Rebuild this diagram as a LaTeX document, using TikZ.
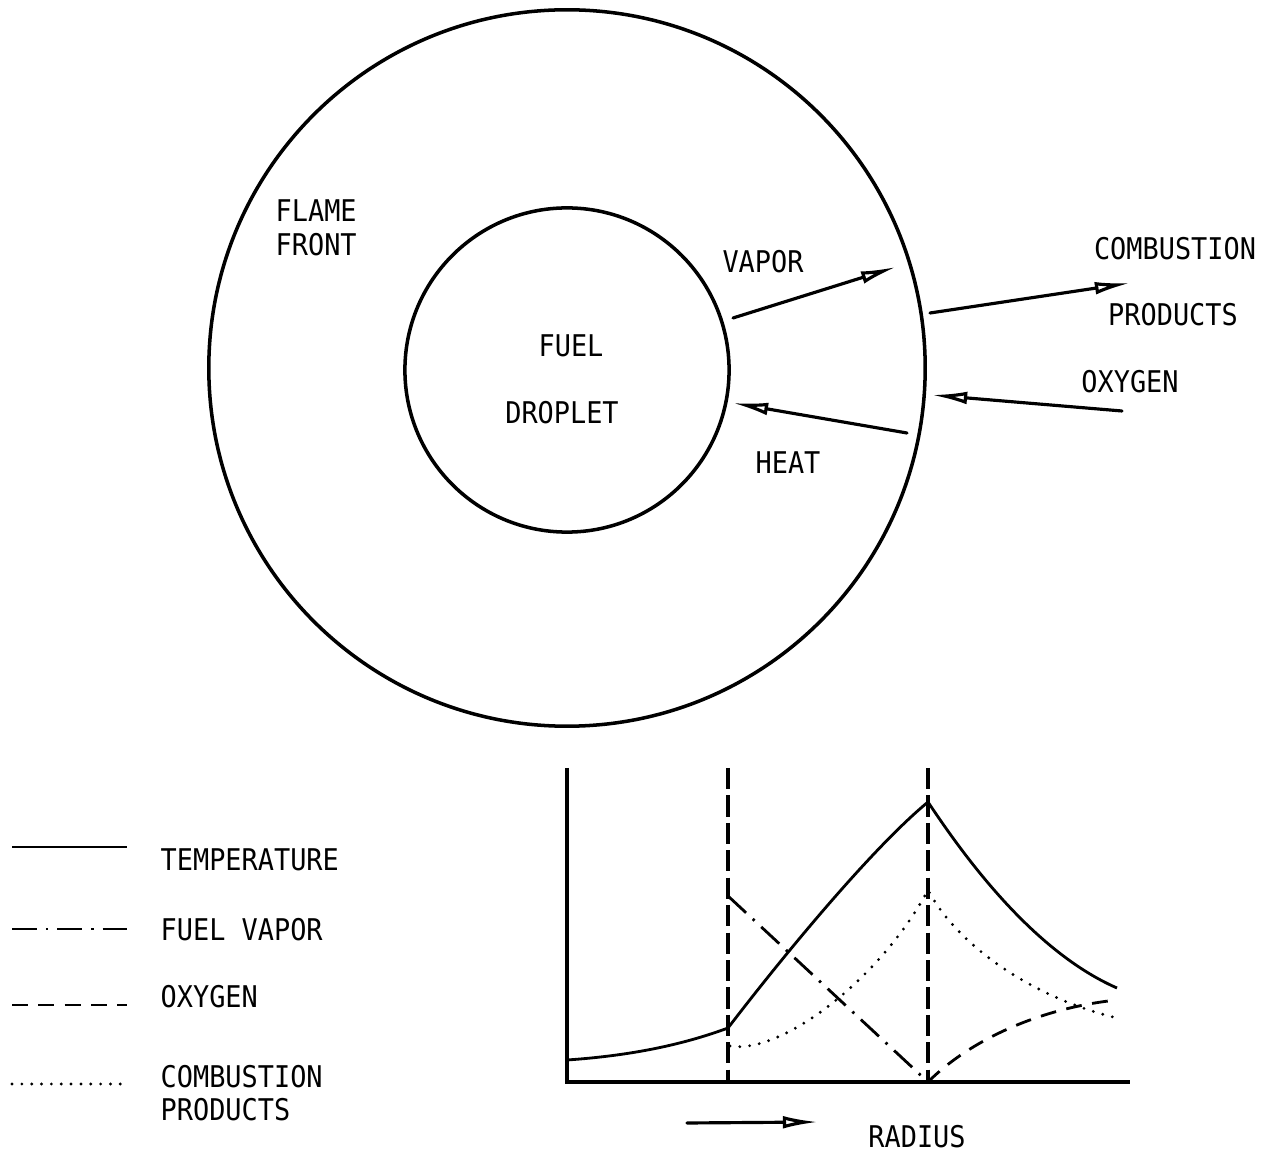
\documentclass[tikz,border=0pt]{standalone}
\usepackage{fontspec}
\newfontfamily\typefont[FakeStretch=0.9]{DejaVu Sans Mono}
\usetikzlibrary{arrows.meta}
\tikzset{
  ring/.style={circle, draw=black, line width=1pt, inner sep=0pt},
  flow/.style={line width=0.9pt, line cap=round,
    -{Latex[open, length=10pt, width=3.6pt]}},
  lbl/.style={font=\typefont\fontsize{8.5}{9.5}\selectfont, inner sep=0pt},
  lbl-left/.style={lbl, anchor=west, align=left},
  axis/.style={line width=1pt},
  divider/.style={line width=0.9pt, dash pattern=on 6pt off 1.8pt},
  temp/.style={line width=0.8pt},
  fuelvap/.style={line width=0.8pt, dash pattern=on 7pt off 2.6pt on 0.7pt off 2.6pt},
  oxy/.style={line width=0.8pt, dash pattern=on 4.5pt off 3pt},
  prod/.style={line width=0.9pt, line cap=round, dash pattern=on 0pt off 2.8pt}
}

\begin{document}
\begin{tikzpicture}[x=0.01cm, y=-0.01cm]
  \useasboundingbox (0,0) rectangle (1275,1152);

  % --- droplet and flame front ---
  \node[ring, minimum size=7.16cm] (flame) at (567,368) {};
  \node[ring, minimum size=3.24cm] (droplet) at (567,370) {};

  \node[lbl] (fuel) at (571,346) {FUEL};
  \node[lbl] (drop) at (562,413) {DROPLET};
  \node[lbl-left] (front) at (275,228) {FLAME\\FRONT};
  \node[lbl] (vapor) at (763,262) {VAPOR};
  \node[lbl] (heat) at (788,463) {HEAT};
  \node[lbl] (comb) at (1175,249) {COMBUSTION};
  \node[lbl] (prods) at (1173,315) {PRODUCTS};
  \node[lbl] (oxygen) at (1130,382) {OXYGEN};

  % arrow ends
  \coordinate (vap-a) at (733,318);
  \coordinate (vap-b) at (896,267);
  \coordinate (heat-a) at (907,433);
  \coordinate (heat-b) at (733,403);
  \coordinate (prod-a) at (930,313);
  \coordinate (prod-b) at (1130,283);
  \coordinate (oxy-a) at (1122,411);
  \coordinate (oxy-b) at (932,395);

  \draw[flow] (vap-a) -- (vap-b);
  \draw[flow] (heat-a) -- (heat-b);
  \draw[flow] (prod-a) -- (prod-b);
  \draw[flow] (oxy-a) -- (oxy-b);

  % --- profile plot ---
  \coordinate (origin) at (567,1082);
  \coordinate (ytop) at (567,768);
  \coordinate (xend) at (1130,1082);
  \draw[axis] (ytop) -- (origin) -- (xend);
  \draw[divider] (728,768) -- (728,1082);
  \draw[divider] (928,768) -- (928,1082);

  % temperature
  \draw[temp] (567,1060) .. controls (640,1055) and (690,1042) .. (728,1028)
    .. controls (780,960) and (870,850) .. (928,802)
    .. controls (960,850) and (1030,950) .. (1117,988);
  % fuel vapor
  \draw[fuelvap] (728,896) -- (928,1082);
  % oxygen
  \draw[oxy] (928,1082) .. controls (970,1040) and (1040,1008) .. (1117,1000);
  % combustion products
  \draw[prod] (730,1046) .. controls (780,1055) and (880,980) .. (928,890)
    .. controls (960,950) and (1040,1000) .. (1117,1018);

  \coordinate (rad-a) at (687,1123);
  \coordinate (rad-b) at (818,1122);
  \draw[flow] (rad-a) -- (rad-b);
  \node[lbl] (radius) at (917,1137) {RADIUS};

  % --- legend ---
  \foreach \sty/\yl in {temp/847, fuelvap/929, oxy/1005, prod/1084}
    \draw[\sty] (12,\yl) -- (127,\yl);
  \node[lbl-left] (l-temp) at (160,860) {TEMPERATURE};
  \node[lbl-left] (l-fuel) at (160,930) {FUEL VAPOR};
  \node[lbl-left] (l-oxy) at (160,997) {OXYGEN};
  \node[lbl-left] (l-prod) at (160,1093) {COMBUSTION\\PRODUCTS};
\end{tikzpicture}
\end{document}
